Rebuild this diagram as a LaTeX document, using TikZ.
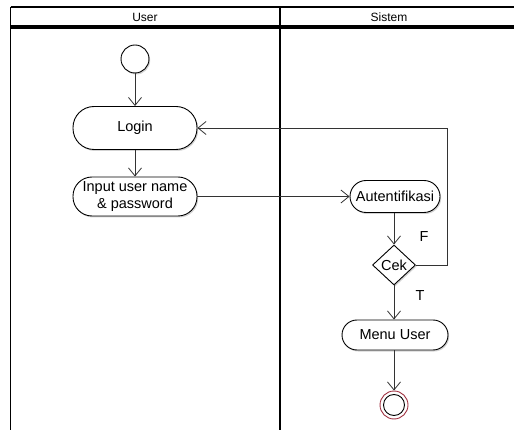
\documentclass[tikz,border=0pt]{standalone}
\usepackage{fontspec}
\setmainfont{Liberation Sans}
\usetikzlibrary{arrows.meta,shapes.geometric,shadows}
\definecolor{edgecol}{HTML}{333333}
\definecolor{endred}{HTML}{A03040}
\begin{document}
\begin{tikzpicture}[x=1pt,y=-1pt,
  body/.style={font=\fontsize{14.5}{16}\selectfont},
  head/.style={font=\fontsize{12}{14}\selectfont},
  act/.style={draw=black, line width=0.9pt, fill=white, rounded corners=#1, inner sep=1pt, body,
    drop shadow={shadow xshift=1.2pt, shadow yshift=-1.5pt, opacity=0.35}},
  lane/.style={line width=1.6pt, black},
  flow/.style={draw=edgecol, line width=0.8pt, -{Straight Barb[length=8pt,width=13pt,line width=0.8pt]}}
]
\path[use as bounding box] (0,0) rectangle (514,430);
% swimlane frame
\draw[lane] (10.5,7) -- (514,7);
\draw[lane] (10.5,7) -- (10.5,430);
\draw[lane] (280,7) -- (280,430);
\draw[line width=4pt] (10.5,27.5) -- (514,27.5);
\node[head] (hu) at (145,17) {User};
\node[head] (hs) at (389,17) {Sistem};
% nodes
\node[circle, draw=black, line width=0.9pt, fill=white, minimum size=28pt, inner sep=0pt,
  drop shadow={shadow xshift=1.2pt, shadow yshift=-1.5pt, opacity=0.35}] (start) at (135,59) {};
\node[act=21pt, minimum width=124pt, minimum height=43pt] (login) at (135,128) {Login};
\node[act=19pt, minimum width=124pt, minimum height=39pt, align=center, font=\fontsize{14.5}{16.5}\selectfont] (input) at (135,196.5) {Input user name\\\& password};
\node[act=16pt, minimum width=90pt, minimum height=32pt] (auth) at (395,196.5) {Autentifikasi};
\node[diamond, draw=black, line width=0.9pt, fill=white, minimum width=43pt, minimum height=40pt, inner sep=0pt, body,
  drop shadow={shadow xshift=1.2pt, shadow yshift=-1.5pt, opacity=0.35}] (cek) at (394,265) {Cek};
\node[act=15pt, minimum width=106pt, minimum height=30pt] (menu) at (395,335) {Menu User};
\node[circle, draw=endred, line width=0.9pt, fill=white, minimum size=28pt, inner sep=0pt] (end) at (394,405) {};
\node[circle, draw=black, line width=0.9pt, fill=white, minimum size=21pt, inner sep=0pt] (endin) at (end) {};
% labels
\node[body] (lf) at (424,237) {F};
\node[body] (lt) at (420,296) {T};
% connectors
\draw[flow] (start) -- (login);
\draw[flow] (login) -- (input);
\draw[flow] (input.east) -- (auth.west);
\draw[flow] (auth.south -| cek.north) -- (cek.north);
\coordinate (c1) at (447,265);
\coordinate (c2) at (447,128);
\draw[flow] (cek.east) -- (c1) -- (c2) -- (login.east);
\draw[flow] (cek.south) -- (cek.south |- menu.north);
\draw[flow] (menu.south -| end.north) -- (end.north);
\end{tikzpicture}
\end{document}
